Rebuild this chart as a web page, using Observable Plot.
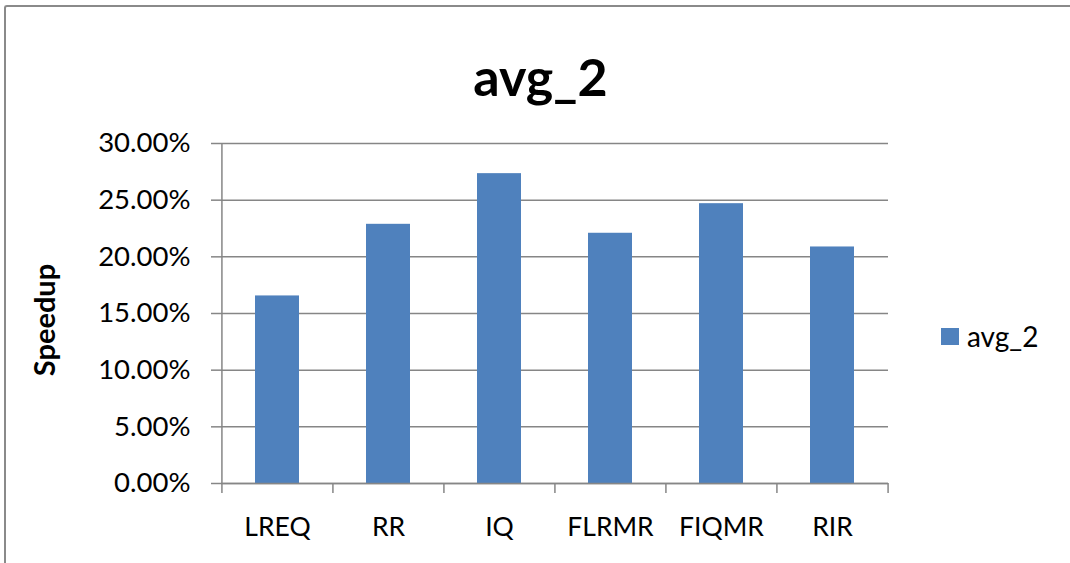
<!DOCTYPE html>
<html>
<head>
<meta charset="utf-8">
<script src="https://cdn.jsdelivr.net/npm/d3@7"></script>
<script src="https://cdn.jsdelivr.net/npm/@observablehq/plot@0.6"></script>
<style>
  html, body { margin: 0; padding: 0; background: #fff; }
  #chart { position: relative; width: 1070px; height: 563px; overflow: hidden; font-family: Lato, sans-serif; }
  #border { position: absolute; left: 4px; top: 5px; width: 1120px; height: 620px;
            border-top: 2px solid #8a8a8a; border-left: 2px solid #8a8a8a; border-radius: 3px 0 0 0; }
  #plot { position: absolute; left: 0; top: 0; }
  #legend { position: absolute; left: 941px; top: 320px; display: flex; align-items: center;
            font-size: 28px; color: #000; line-height: 32px; }
  #legend .swatch { width: 18px; height: 17px; margin-right: 8px; }
</style>
</head>
<body>
<div id="chart">
  <div id="border"></div>
  <div id="plot"></div>
  <div id="legend"></div>
</div>
<script>
// Speedup per scheme
const categories = ["LREQ", "RR", "IQ", "FLRMR", "FIQMR", "RIR"];
const speedup = [0.1655, 0.2287, 0.2734, 0.2208, 0.2469, 0.2087];
const seriesName = "avg_2";
const yTicks = [0, 0.05, 0.10, 0.15, 0.20, 0.25, 0.30];
const chartTitle = "avg_2";
const yLabel = "Speedup";

const barColor = "#4F81BD";
const lineColor = "#868686";

const W = 1070, H = 563;
const mL = 221, mR = 182, mT = 143, mB = 80;
const step = (W - mL - mR) / categories.length;

const rows = categories.map((c, i) => ({category: c, value: speedup[i]}));

const chart = Plot.plot({
  width: W,
  height: H,
  marginLeft: mL,
  marginRight: mR,
  marginTop: mT,
  marginBottom: mB,
  style: {fontFamily: "Lato, sans-serif", fontSize: "26px", color: "#000", background: "transparent", overflow: "visible"},
  x: {type: "band", domain: categories, paddingInner: 0.6, paddingOuter: 0.3},
  y: {domain: [0, 0.3]},
  marks: [
    // horizontal gridlines
    Plot.ruleY(yTicks, {stroke: lineColor, strokeWidth: 1.5}),
    Plot.axisY({
      ticks: yTicks,
      tickFormat: d => (d * 100).toFixed(2) + "%",
      tickSize: 10,
      tickPadding: 21,
      fontSize: 27.5,
      stroke: lineColor,
      strokeWidth: 1.5,
      label: null
    }),
    Plot.barY(rows, {x: "category", y: "value", fill: barColor}),
    // value axis line, continuing into the first category tick
    Plot.ruleX([categories[0]], {y1: 0.3, y2: 0, dx: -step / 2, insetBottom: -10, stroke: lineColor, strokeWidth: 1.5}),
    // category boundary ticks
    Plot.ruleX(categories.slice(1), {y1: 0, y2: 0, dx: -step / 2, insetBottom: -10, stroke: lineColor, strokeWidth: 1.5}),
    Plot.ruleX([categories[categories.length - 1]], {y1: 0, y2: 0, dx: step / 2, insetBottom: -10, stroke: lineColor, strokeWidth: 1.5}),
    Plot.ruleY([0], {stroke: lineColor, strokeWidth: 1.5}),
    Plot.axisX({tickSize: 0, tickPadding: 34, fontSize: 26.5, label: null}),
    Plot.text([chartTitle], {frameAnchor: "top", lineAnchor: "bottom", dx: -14.5, dy: -48, fontSize: 52, fontWeight: "bold", fill: "#000"}),
    Plot.text([yLabel], {frameAnchor: "left", textAnchor: "middle", rotate: -90, dx: -176, dy: 6.5, fontSize: 29, fontWeight: "bold", fill: "#000"})
  ]
});
document.getElementById("plot").appendChild(chart);

// legend
const legend = document.getElementById("legend");
const sw = document.createElement("div");
sw.className = "swatch";
sw.style.background = barColor;
const label = document.createElement("span");
label.textContent = seriesName;
legend.appendChild(sw);
legend.appendChild(label);
</script>
</body>
</html>
